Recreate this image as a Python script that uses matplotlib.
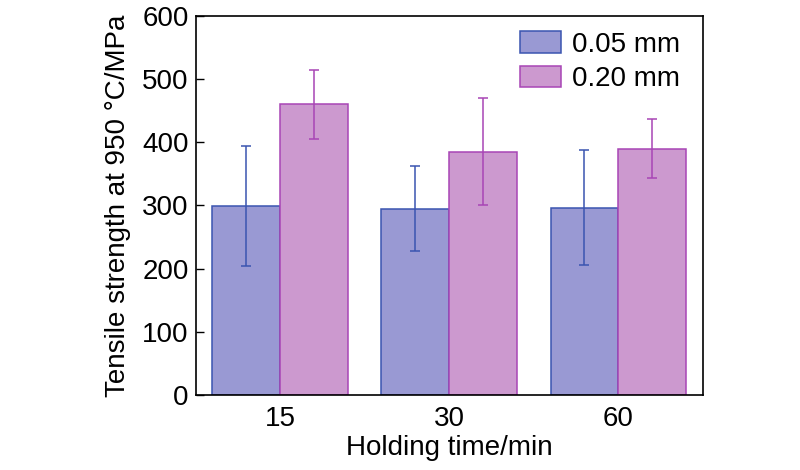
import numpy as np
import matplotlib
matplotlib.use("Agg")
from matplotlib import pyplot as plt

plt.rcParams['font.family'] = ['Liberation Sans', 'DejaVu Sans']

holding_time = ['15', '30', '60']
strength_005 = [299, 295, 296]
err_005 = [95, 67, 91]
strength_020 = [460, 385, 390]
err_020 = [55, 85, 47]

fig = plt.figure(figsize=(8, 4.7), dpi=100)
ax = fig.add_axes([0.2444, 0.160, 0.6340, 0.806])

x = np.arange(len(holding_time))
w = 0.4
ax.bar(x - w / 2, strength_005, w, color='#9999d3', edgecolor='#3a55b0', linewidth=1.1,
       yerr=err_005, error_kw=dict(ecolor='#3a55b0', elinewidth=1.1, capsize=3.5, capthick=1.1),
       label='0.05 mm')
ax.bar(x + w / 2, strength_020, w, color='#cc99cf', edgecolor='#a845b5', linewidth=1.1,
       yerr=err_020, error_kw=dict(ecolor='#a845b5', elinewidth=1.1, capsize=3.5, capthick=1.1),
       label='0.20 mm')

ax.set_xlim(-0.5, 2.5)
ax.set_ylim(0, 600)
ax.set_yticks(range(0, 601, 100))
ax.set_xticks(x)
ax.set_xticklabels(holding_time)
ax.tick_params(axis='y', direction='in', length=6, labelsize=20, width=1, pad=5)
ax.tick_params(axis='x', length=0, labelsize=20, pad=8)
for s in ax.spines.values():
    s.set_linewidth(1.2)

ax.set_xlabel('Holding time/min', fontsize=20, labelpad=2)
ax.set_ylabel('Tensile strength at 950 \u00b0C/MPa', fontsize=20, labelpad=8)

ax.legend(loc='upper right', bbox_to_anchor=(0.985, 1.0), frameon=False, fontsize=20,
          handlelength=1.45, handleheight=0.8, borderaxespad=0.15, labelspacing=0.3,
          handletextpad=0.4)

fig.savefig('out.png', dpi=100)
